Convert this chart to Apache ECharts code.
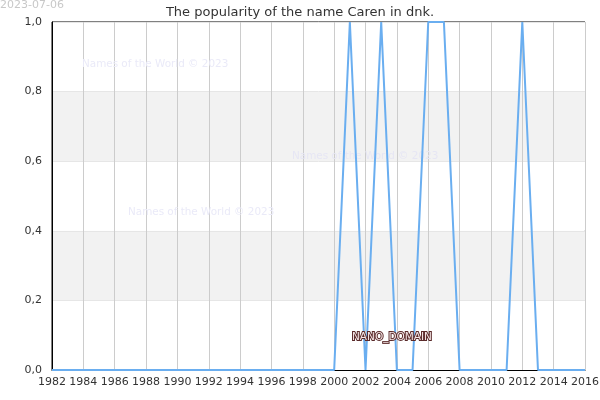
<!DOCTYPE html>
<html>
<head>
<meta charset="utf-8">
<script src="https://cdn.jsdelivr.net/npm/echarts@6/dist/echarts.min.js"></script>
<style>
  html, body { margin: 0; padding: 0; background: #fff; }
  #main { width: 600px; height: 400px; }
</style>
</head>
<body>
<div id="main"></div>
<script>
// years shown in the chart and popularity share for each one
const years = [1982, 1983, 1984, 1985, 1986, 1987, 1988, 1989, 1990, 1991,
  1992, 1993, 1994, 1995, 1996, 1997, 1998, 1999, 2000, 2001,
  2002, 2003, 2004, 2005, 2006, 2007, 2008, 2009, 2010, 2011,
  2012, 2013, 2014, 2015, 2016];
const popularity = [0, 0, 0, 0, 0, 0, 0, 0, 0, 0,
  0, 0, 0, 0, 0, 0, 0, 0, 0, 1,
  0, 1, 0, 0, 1, 1, 0, 0, 0, 0,
  1, 0, 0, 0, 0];

const titleText = 'The popularity of the name Caren in dnk.';
const stamp = '2023-07-06';
const watermark = 'Names of the World © 2023';

const font = 'DejaVu Sans';
let myChart = echarts.init(document.getElementById('main'));

let option = {
  animation: false,
  backgroundColor: '#fff',
  title: {
    text: titleText,
    left: 'center',
    top: 1,
    textStyle: { fontFamily: font, fontSize: 13, fontWeight: 'normal', color: '#333' }
  },
  grid: {
    left: 52,
    right: 15,
    top: 22,
    bottom: 30,
    outerBoundsMode: 'none',
    containLabel: false,
    show: true,
    borderColor: '#000',
    borderWidth: 1,
    backgroundColor: 'transparent'
  },
  xAxis: {
    type: 'value',
    min: 1982,
    max: 2016,
    interval: 2,
    axisLine: { lineStyle: { color: '#000', width: 1 } },
    axisTick: { show: false },
    axisLabel: {
      fontFamily: font, fontSize: 11, color: '#333', margin: 7,
      formatter: v => String(v)
    },
    splitLine: { show: true, lineStyle: { color: '#ccc', width: 1 } }
  },
  yAxis: {
    type: 'value',
    min: 0,
    max: 1,
    interval: 0.2,
    axisLine: { show: true, lineStyle: { color: '#000', width: 1 } },
    axisTick: { show: false },
    axisLabel: {
      fontFamily: font, fontSize: 11, color: '#333', margin: 10,
      formatter: v => v.toFixed(1).replace('.', ',')
    },
    splitLine: { show: true, lineStyle: { color: '#e6e6e6', width: 1 } },
    splitArea: { show: true, areaStyle: { color: ['#fff', '#f2f2f2'] } }
  },
  series: [
    {
      type: 'line',
      data: years.map((y, i) => [y, popularity[i]]),
      symbol: 'none',
      lineStyle: { color: '#6aaef0', width: 2 },
      z: 3
    }
  ],
  graphic: [
    { type: 'text', left: 0, top: 0, z: 5,
      style: { text: stamp, fontFamily: font, fontSize: 11, fill: '#c8c8c8' } },
    { type: 'text', left: 82, top: 59, z: 2,
      style: { text: watermark, fontFamily: font, fontSize: 10.4, fill: '#eaeaf8' } },
    { type: 'text', left: 292, top: 151, z: 2,
      style: { text: watermark, fontFamily: font, fontSize: 10.4, fill: '#e6e6f4' } },
    { type: 'text', left: 128, top: 207, z: 2,
      style: { text: watermark, fontFamily: font, fontSize: 10.4, fill: '#eaeaf8' } },
    { type: 'text', left: 351, top: 331, z: 10,
      style: { text: 'NANO_DOMAIN', fontFamily: font, fontSize: 10.5,
        fill: '#f5e6e6', stroke: '#5a2a2a', lineWidth: 2 } }
  ]
};
myChart.setOption(option, true);
</script>
</body>
</html>
